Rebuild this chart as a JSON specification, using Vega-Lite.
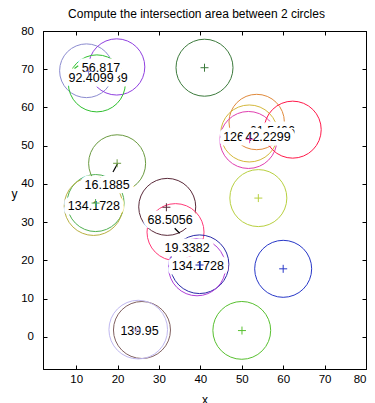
{
  "$schema": "https://vega.github.io/schema/vega-lite/v6.json",
  "autosize": {"type": "none"},
  "width": 323,
  "height": 338,
  "padding": {"left": 43, "top": 31, "right": 9, "bottom": 34},
  "title": {"text": "Compute the intersection area between 2 circles", "font": "Liberation Sans", "fontSize": 12, "fontWeight": "normal", "color": "black", "anchor": "middle", "frame": "group", "offset": 4, "dx": -8},
  "config": {
    "view": {"stroke": "black", "strokeWidth": 1},
    "axis": {"labelFont": "Liberation Sans", "labelFontSize": 11.5, "labelColor": "black", "titleFont": "Liberation Sans", "titleFontSize": 12, "titleFontWeight": "normal", "titleColor": "black", "tickColor": "black", "domainColor": "black", "grid": false}
  },
  "datasets": {
    "circles": [
      {"id": "c01", "x": 41.0, "y": 70.4, "r": 7.0},
      {"id": "c02", "x": 12.5, "y": 69.6, "r": 6.6},
      {"id": "c03", "x": 19.8, "y": 70.6, "r": 6.9},
      {"id": "c04", "x": 15.0, "y": 66.3, "r": 7.0},
      {"id": "c05", "x": 53.6, "y": 56.2, "r": 6.8},
      {"id": "c06", "x": 51.8, "y": 53.2, "r": 7.0},
      {"id": "c07", "x": 51.6, "y": 51.5, "r": 7.0},
      {"id": "c08", "x": 62.3, "y": 54.2, "r": 7.0},
      {"id": "c09", "x": 54.0, "y": 36.3, "r": 7.0},
      {"id": "c10", "x": 60.0, "y": 17.8, "r": 7.0},
      {"id": "c11", "x": 50.0, "y": 1.7, "r": 7.1},
      {"id": "c12", "x": 25.9, "y": 1.8, "r": 7.0},
      {"id": "c13", "x": 25.0, "y": 1.9, "r": 7.2},
      {"id": "c14", "x": 32.0, "y": 34.0, "r": 7.0},
      {"id": "c15", "x": 34.0, "y": 27.4, "r": 7.0},
      {"id": "c16", "x": 39.8, "y": 19.0, "r": 7.2},
      {"id": "c17", "x": 39.2, "y": 18.2, "r": 7.0},
      {"id": "c18", "x": 19.9, "y": 45.4, "r": 7.0},
      {"id": "c19", "x": 14.7, "y": 35.0, "r": 7.0},
      {"id": "c20", "x": 14.2, "y": 34.2, "r": 7.2}
    ],
    "centers": [
      {"id": "c01", "x": 41.0, "y": 70.4},
      {"id": "c02", "x": 13.0, "y": 69.4},
      {"id": "c07", "x": 51.9, "y": 51.7},
      {"id": "c09", "x": 54.0, "y": 36.3},
      {"id": "c10", "x": 60.0, "y": 17.8},
      {"id": "c11", "x": 50.05, "y": 1.65},
      {"id": "c13", "x": 24.6, "y": 1.8},
      {"id": "c14", "x": 31.8, "y": 33.9},
      {"id": "c16", "x": 39.8, "y": 18.8},
      {"id": "c18", "x": 19.9, "y": 45.4},
      {"id": "c19", "x": 14.7, "y": 35.0}
    ],
    "marks": [
      {"id": "k", "x": 18.9, "y": 43.1, "x2": 20.0, "y2": 45.3},
      {"id": "k", "x": 33.8, "y": 28.4, "x2": 35.0, "y2": 27.1},
      {"id": "c04", "x": 9.6, "y": 70.2, "x2": 10.5, "y2": 70.9}
    ],
    "backLabels": [
      {"label": "37.5089", "x": 17.0, "y": 67.6},
      {"label": "126.2779", "x": 51.8, "y": 52.4},
      {"label": "61.5406", "x": 57.4, "y": 53.9}
    ],
    "frontLabels": [
      {"label": "92.4099", "x": 13.6, "y": 67.6},
      {"label": "56.817", "x": 16.0, "y": 70.4},
      {"label": "42.2299", "x": 56.35, "y": 52.4},
      {"label": "16.1885", "x": 17.5, "y": 39.7},
      {"label": "134.1728", "x": 14.3, "y": 34.2},
      {"label": "68.5056", "x": 32.7, "y": 30.6},
      {"label": "19.3382", "x": 36.8, "y": 23.3},
      {"label": "134.1728", "x": 39.4, "y": 18.6},
      {"label": "139.95", "x": 25.3, "y": 1.65}
    ]
  },
  "layer": [
    {
      "data": {"name": "circles"},
      "mark": {"type": "point", "filled": false, "strokeWidth": 1, "opacity": 1, "shape": "circle"},
      "encoding": {
        "x": {"field": "x", "type": "quantitative", "scale": {"domain": [2, 80], "nice": false, "zero": false},
              "axis": {"orient": "bottom", "values": [10, 20, 30, 40, 50, 60, 70, 80], "tickSize": -4, "labelPadding": 8.5, "title": "x", "titleY": 30, "titleBaseline": "middle"}},
        "y": {"field": "y", "type": "quantitative", "scale": {"domain": [-8.4, 80], "nice": false, "zero": false},
              "axis": {"orient": "left", "values": [0, 10, 20, 30, 40, 50, 60, 70, 80], "tickSize": -4, "labelPadding": 13.5, "title": "y", "titleAngle": 0, "titleX": -29, "titleY": 162, "titleAlign": "center", "titleBaseline": "middle"}},
        "size": {"field": "r", "type": "quantitative", "scale": {"type": "pow", "exponent": 2, "domain": [0, 7], "range": [0, 3249]}, "legend": null},
        "color": {"field": "id", "type": "nominal", "legend": null,
                  "scale": {"domain": ["c01","c02","c03","c04","c05","c06","c07","c08","c09","c10","c11","c12","c13","c14","c15","c16","c17","c18","c19","c20","k"],
                            "range": ["#3c7a3c","#8c8cd0","#9040e0","#30c030","#e08a3c","#d4b83c","#e040b0","#ff1a4a","#b8d040","#2838c8","#58c030","#806060","#c0b8f0","#5a2a3a","#ff3a78","#2a2aa8","#b040d8","#6a9a40","#50b050","#b8b040","#000000"]}}
      }
    },
    {
      "data": {"name": "backLabels"},
      "mark": {"type": "text", "font": "Liberation Sans", "fontSize": 12.5, "fill": "white", "stroke": "white", "strokeWidth": 9, "strokeJoin": "round"},
      "encoding": {
        "x": {"field": "x", "type": "quantitative", "axis": null},
        "y": {"field": "y", "type": "quantitative", "axis": null},
        "text": {"field": "label"}
      }
    },
    {
      "data": {"name": "backLabels"},
      "mark": {"type": "text", "font": "Liberation Sans", "fontSize": 12.5, "fill": "black"},
      "encoding": {
        "x": {"field": "x", "type": "quantitative", "axis": null},
        "y": {"field": "y", "type": "quantitative", "axis": null},
        "text": {"field": "label"}
      }
    },
    {
      "data": {"name": "frontLabels"},
      "mark": {"type": "text", "font": "Liberation Sans", "fontSize": 12.5, "fill": "white", "stroke": "white", "strokeWidth": 9, "strokeJoin": "round"},
      "encoding": {
        "x": {"field": "x", "type": "quantitative", "axis": null},
        "y": {"field": "y", "type": "quantitative", "axis": null},
        "text": {"field": "label"}
      }
    },
    {
      "data": {"name": "frontLabels"},
      "mark": {"type": "text", "font": "Liberation Sans", "fontSize": 12.5, "fill": "black"},
      "encoding": {
        "x": {"field": "x", "type": "quantitative", "axis": null},
        "y": {"field": "y", "type": "quantitative", "axis": null},
        "text": {"field": "label"}
      }
    },
    {
      "data": {"name": "marks"},
      "mark": {"type": "rule", "strokeWidth": 1.2},
      "encoding": {
        "x": {"field": "x", "type": "quantitative", "axis": null},
        "y": {"field": "y", "type": "quantitative", "axis": null},
        "x2": {"field": "x2"},
        "y2": {"field": "y2"},
        "color": {"field": "id", "type": "nominal", "legend": null}
      }
    },
    {
      "data": {"name": "centers"},
      "mark": {"type": "point", "filled": false, "strokeWidth": 1, "opacity": 1, "shape": "M-1,0H1M0,-1V1", "size": 64},
      "encoding": {
        "x": {"field": "x", "type": "quantitative",
              "axis": {"orient": "top", "values": [10, 20, 30, 40, 50, 60, 70, 80], "tickSize": -4, "labels": false, "title": null}},
        "y": {"field": "y", "type": "quantitative",
              "axis": {"orient": "right", "values": [0, 10, 20, 30, 40, 50, 60, 70, 80], "tickSize": -4, "labels": false, "title": null}},
        "color": {"field": "id", "type": "nominal", "legend": null}
      }
    }
  ],
  "resolve": {"axis": {"x": "independent", "y": "independent"}}
}
